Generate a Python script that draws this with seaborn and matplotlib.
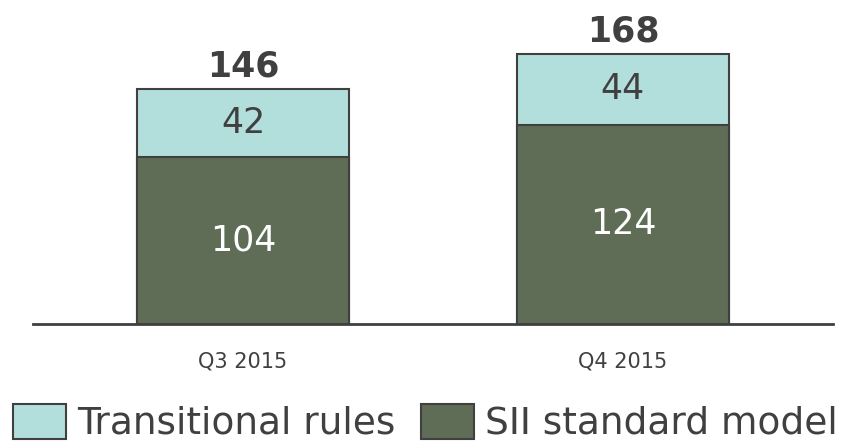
import matplotlib
matplotlib.use("Agg")
import matplotlib.pyplot as plt
import seaborn as sns
import pandas as pd
from matplotlib.patches import Patch

# chart data
quarters = ["Q3 2015", "Q4 2015"]
sii_standard = [104, 124]
transitional = [42, 44]
totals = [146, 168]

TEAL = "#b2dfdb"
GREEN = "#5f6d56"
DARK = "#404040"

sns.set_style("white")
plt.rcParams["font.family"] = ["DejaVu Sans"]

df = pd.DataFrame({
    "quarter": quarters,
    "sii": sii_standard,
    "trans": transitional,
    "total": [s + t for s, t in zip(sii_standard, transitional)],
})

fig = plt.figure(figsize=(8.5, 4.43), dpi=100)
ax = fig.add_axes([33 / 850, 119 / 443, 800 / 850, 324 / 443])

bar_w = 0.558
# stacked bars: draw the full height first, then the lower segment on top
sns.barplot(data=df, x="quarter", y="total", color=TEAL, width=bar_w,
            edgecolor=DARK, linewidth=1.5, saturation=1, ax=ax)
sns.barplot(data=df, x="quarter", y="sii", color=GREEN, width=bar_w,
            edgecolor=DARK, linewidth=1.5, saturation=1, ax=ax)

ax.set_xlim(-0.553, 1.553)
ax.set_ylim(0, 201.7)
ax.set_xlabel("")
ax.set_ylabel("")
ax.set_yticks([])
sns.despine(ax=ax, left=True, top=True, right=True)
ax.spines["bottom"].set_color(DARK)
ax.spines["bottom"].set_linewidth(2)
ax.tick_params(axis="x", length=0, pad=20, labelsize=15, labelcolor=DARK)

for i, row in df.iterrows():
    ax.text(i, row["sii"] / 2, f"{row['sii']}", ha="center", va="center",
            fontsize=25, color="white")
    ax.text(i, row["sii"] + row["trans"] / 2, f"{row['trans']}", ha="center",
            va="center", fontsize=25, color=DARK)
    ax.annotate(f"{totals[i]}", (i, row["total"]), xytext=(0, 9.4),
                textcoords="offset points", ha="center", va="baseline",
                fontsize=25, fontweight="bold", color=DARK)

handles = [
    Patch(facecolor=TEAL, edgecolor=DARK, linewidth=1.5, label="Transitional rules"),
    Patch(facecolor=GREEN, edgecolor=DARK, linewidth=1.5, label="SII standard model"),
]
leg = fig.legend(handles=handles, loc="lower left", bbox_to_anchor=(13 / 850, 1 / 443),
                 ncol=2, frameon=False, fontsize=27, borderpad=0, borderaxespad=0,
                 handlelength=1.41, handleheight=1.07, handletextpad=0.29,
                 columnspacing=0.69)
for t in leg.get_texts():
    t.set_color(DARK)

fig.savefig("out.png", dpi=100)
